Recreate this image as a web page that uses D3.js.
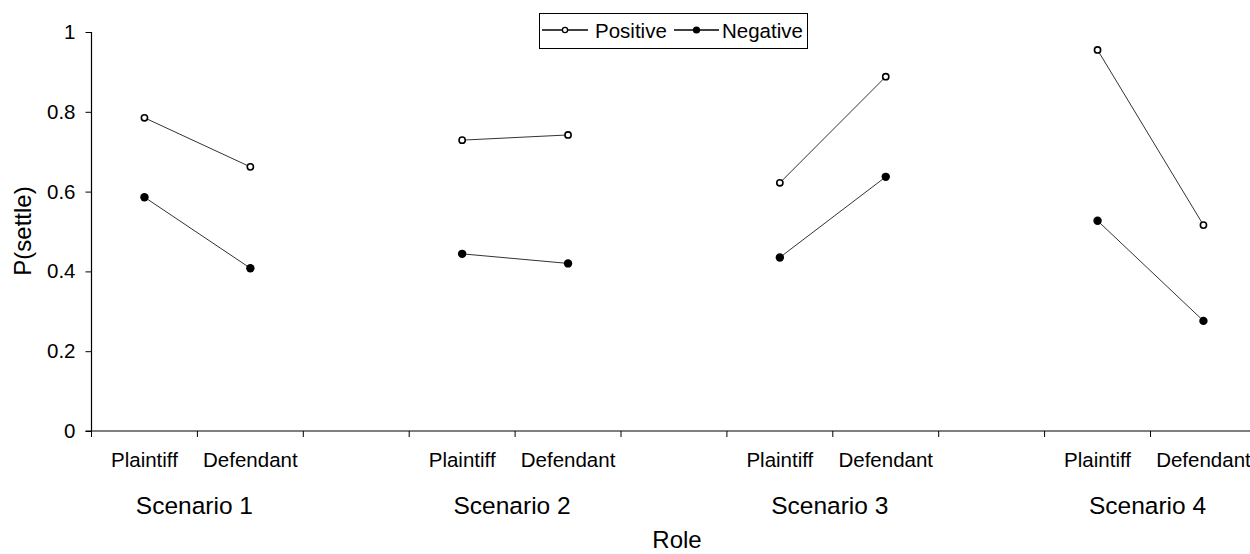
<!DOCTYPE html>
<html>
<head>
<meta charset="utf-8">
<script src="https://cdn.jsdelivr.net/npm/d3@7"></script>
<style>
  html, body { margin: 0; padding: 0; background: #fff; }
  svg { display: block; font-family: "Liberation Sans", Arial, sans-serif; }
</style>
</head>
<body>
<svg id="chart" width="1250" height="554"></svg>
<script>
const scenarios = ["Scenario 1", "Scenario 2", "Scenario 3", "Scenario 4"];
const roles = ["Plaintiff", "Defendant"];
const seriesNames = ["Positive", "Negative"];
const positive = [0.785, 0.662, 0.729, 0.742, 0.622, 0.888, 0.955, 0.516];
const negative = [0.586, 0.408, 0.444, 0.420, 0.435, 0.637, 0.527, 0.276];
const yTicks = [0, 0.2, 0.4, 0.6, 0.8, 1];
const yTickLabels = ["0", "0.2", "0.4", "0.6", "0.8", "1"];
const xTitle = "Role";
const yTitle = "P(settle)";

(function () {
const svg = d3.select("#chart");
const plotLeft = 91.5, plotTop = 32, plotBottom = 431;

// slots: Plaintiff, Defendant, gap per scenario (11 slots)
const slots = [];
scenarios.forEach((s, i) => {
  roles.forEach(r => slots.push(i + "|" + r));
  if (i < scenarios.length - 1) slots.push(i + "|gap");
});

const x = d3.scaleBand().domain(slots).range([plotLeft, plotLeft + slots.length * 105.9]).paddingInner(0).paddingOuter(0);
const y = d3.scaleLinear().domain([0, 1]).range([plotBottom, plotTop]);

// Y axis
const yAxis = d3.axisLeft(y).tickValues(yTicks).tickSize(6).tickPadding(10)
  .tickFormat((d, i) => yTickLabels[i]);
const yg = svg.append("g").attr("transform", `translate(${plotLeft},0)`).call(yAxis);
yg.select(".domain").attr("stroke", "#000").attr("stroke-width", 1.2).attr("d", `M0,${plotTop}V${plotBottom}`);
yg.selectAll(".tick line").attr("stroke", "#000");
yg.selectAll(".tick text").attr("font-size", 20.5).attr("fill", "#000")
  .attr("font-family", "Liberation Sans, Arial, sans-serif");

// X axis line
const xg = svg.append("g");
xg.append("line").attr("x1", plotLeft - 6).attr("x2", 1250).attr("y1", plotBottom).attr("y2", plotBottom)
  .attr("stroke", "#000").attr("stroke-width", 1.2);
const boundaries = slots.map(s => x(s));
xg.selectAll("line.bt").data(boundaries).enter().append("line").attr("class", "bt")
  .attr("x1", d => d).attr("x2", d => d).attr("y1", plotBottom).attr("y2", plotBottom + 6)
  .attr("stroke", "#000").attr("stroke-width", 1);

// category labels
const catSlots = slots.filter(s => !s.endsWith("gap"));
xg.selectAll("text.cat").data(catSlots).enter().append("text").attr("class", "cat")
  .attr("x", d => x(d) + x.bandwidth() / 2).attr("y", 467)
  .attr("text-anchor", "middle").attr("font-size", 20.5).attr("fill", "#000")
  .text(d => d.split("|")[1]);

// scenario labels
xg.selectAll("text.scn").data(scenarios).enter().append("text").attr("class", "scn")
  .attr("x", (d, i) => x(i + "|Defendant") - 3)
  .attr("y", 514).attr("text-anchor", "middle").attr("font-size", 24.5).attr("fill", "#000")
  .text(d => d);

// axis titles
svg.append("text").attr("x", 677).attr("y", 548).attr("text-anchor", "middle")
  .attr("font-size", 24).attr("fill", "#000").text(xTitle);
svg.append("text").attr("transform", `translate(31,231) rotate(-90)`).attr("text-anchor", "middle")
  .attr("font-size", 24).attr("fill", "#000").text(yTitle);

// data lines
const series = [
  { name: seriesNames[0], values: positive, open: true },
  { name: seriesNames[1], values: negative, open: false }
];
const cx = (si, ri) => x(si + "|" + roles[ri]) + x.bandwidth() / 2;

series.forEach(ser => {
  const g = svg.append("g");
  scenarios.forEach((s, si) => {
    const pts = roles.map((r, ri) => [cx(si, ri), y(ser.values[si * 2 + ri])]);
    g.append("path").attr("d", d3.line()(pts)).attr("fill", "none")
      .attr("stroke", "#333").attr("stroke-width", 1);
    pts.forEach(p => {
      if (ser.open) {
        g.append("circle").attr("cx", p[0]).attr("cy", p[1]).attr("r", 3.1)
          .attr("fill", "#fff").attr("stroke", "#000").attr("stroke-width", 1.6);
      } else {
        g.append("circle").attr("cx", p[0]).attr("cy", p[1]).attr("r", 4.2)
          .attr("fill", "#000");
      }
    });
  });
});

// legend
const lg = svg.append("g");
lg.append("rect").attr("x", 539.5).attr("y", 13.5).attr("width", 268).attr("height", 35)
  .attr("fill", "#fff").attr("stroke", "#000").attr("stroke-width", 1);
const legendItems = [
  { name: seriesNames[0], x0: 542, x1: 588, tx: 595, open: true },
  { name: seriesNames[1], x0: 674, x1: 719, tx: 722, open: false }
];
legendItems.forEach(it => {
  lg.append("line").attr("x1", it.x0).attr("x2", it.x1).attr("y1", 30).attr("y2", 30)
    .attr("stroke", "#000").attr("stroke-width", 1.5);
  if (it.open) {
    lg.append("circle").attr("cx", (it.x0 + it.x1) / 2).attr("cy", 30).attr("r", 2.6)
      .attr("fill", "#fff").attr("stroke", "#000").attr("stroke-width", 1.3);
  } else {
    lg.append("circle").attr("cx", (it.x0 + it.x1) / 2).attr("cy", 30).attr("r", 3.6).attr("fill", "#000");
  }
  lg.append("text").attr("x", it.tx).attr("y", 37.5).attr("font-size", 20.5).attr("fill", "#000").text(it.name);
});
})();
</script>
</body>
</html>
